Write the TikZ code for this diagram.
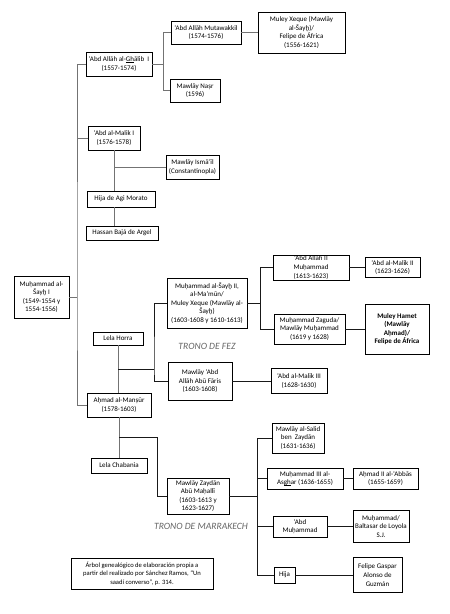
\documentclass[tikz,border=0pt]{standalone}
\usepackage{fontspec}
\setmainfont{Carlito}
\usetikzlibrary{positioning, calc}
\newcommand{\undl}[1]{{\setbox0\hbox{#1}\rlap{\rule[-0.9pt]{\wd0}{0.3pt}}\box0}}
\tikzset{
  person/.style={rectangle, draw, line width=0.9pt, align=center, inner sep=0.6pt, font=\fontsize{7}{8.6}\selectfont},
  keyperson/.style={person, font=\fontsize{7}{8.6}\selectfont\bfseries},
  source/.style={person, font=\fontsize{6.6}{8.3}\selectfont},
  throne/.style={font=\fontsize{9.6}{11}\selectfont\itshape, text=black!60},
  link/.style={line width=0.9pt, draw=black!55},
  linkdark/.style={line width=0.9pt, draw=black!90},
}

\begin{document}
\begin{tikzpicture}[x=1pt, y=-1pt]
  \fill[white] (0,0) rectangle (450,614);
  \useasboundingbox (0,0) rectangle (450,614);

  % Founder and the first generation
  \node[person, minimum width=55, minimum height=42] (sayh1) at (41.5,297) {Muḥammad al-\\Šayḫ I\\(1549-1554 y\\1554-1556)};
  \node[person, minimum width=66, minimum height=24] (ghalib) at (119,64) {‘Abd Allāh al-\undl{Gh}ālib~ I\\(1557-1574)};
  \node[person, minimum width=52, minimum height=24] (malik1) at (114,138) {‘Abd al-Malik I\\(1576-1578)};
  \node[person, minimum width=50, minimum height=13] (horra) at (118,338.5) {Lela Horra};
  \node[person, minimum width=64, minimum height=24] (mansur) at (119,405) {Aḥmad al-Manṣūr\\(1578-1603)};
  \node[person, minimum width=56, minimum height=15] (chabania) at (119,465.5) {Lela Chabania};

  % Branch of al-Ghalib
  \node[person, minimum width=70, minimum height=23] (mutawakkil) at (206,32.5) {‘Abd Allāh Mutawakkil\\(1574-1576)};
  \node[person, minimum width=87, minimum height=41] (xeque1) at (301.5,32.5) {Muley Xeque (Mawlāy\\al-Šayḫ)/\\Felipe de África\\(1556-1621)};
  \node[person, minimum width=50, minimum height=23] (nasr) at (195,90.5) {Mawlāy Naṣr\\(1596)};

  % Branch of Abd al-Malik I
  \node[person, minimum width=53, minimum height=24] (ismail) at (192.5,167) {Mawlāy Ismā‘īl\\(Constantinopla)};
  \node[person, minimum width=68, minimum height=16] (morato) at (121,199) {Hija de Agi Morato};
  \node[person, minimum width=72, minimum height=14] (hassan) at (122,233) {Hassan Bajá de Argel};

  % Throne of Fez
  \node[person, minimum width=80, minimum height=50] (sayh2) at (207,303) {Muḥammad al-Šayḫ II,\\al-Ma’mūn/\\Muley Xeque (Mawlāy al-\\Šayḫ)\\(1603-1608 y 1610-1613)};
  \node[person, minimum width=76, minimum height=25] (abdallah2) at (311,267.5) {‘Abd Allāh II\\Muḥammad\\(1613-1623)};
  \node[person, minimum width=55, minimum height=20] (malik2) at (392.5,267.5) {‘Abd al-Malik II\\(1623-1626)};
  \node[person, minimum width=71, minimum height=30] (zaguda) at (309.5,329) {Muḥammad Zaguda/\\Mawlāy Muḥammad\\(1619 y 1628)};
  \node[keyperson, minimum width=64, minimum height=50] (hamet) at (397,329) {Muley Hamet\\(Mawlāy\\Aḥmad)/\\Felipe de África};
  \node[person, minimum width=64, minimum height=38] (faris) at (200,381) {Mawlāy ‘Abd\\Allāh Abū Fāris\\(1603-1608)};
  \node[person, minimum width=56, minimum height=25] (malik3) at (299,381) {‘Abd al-Malik III\\(1628-1630)};
  \node[throne] (fez) at (207,346) {TRONO DE FEZ};

  % Throne of Marrakech
  \node[person, minimum width=62, minimum height=36] (zaydan) at (198,496) {Mawlāy Zaydān\\Abū Maḥallī\\(1603-1613 y\\1623-1627)};
  \node[person, minimum width=52, minimum height=30] (salid) at (298,438) {Mawlāy al-Salid\\ben~ Zaydān\\(1631-1636)};
  \node[person, minimum width=76, minimum height=21] (asghar) at (305,478.5) {Muḥammad III al-\\As\undl{gh}ar (1636-1655)};
  \node[person, minimum width=65, minimum height=21] (abbas) at (385.5,478.5) {Aḥmad II al-‘Abbās\\(1655-1659)};
  \node[person, minimum width=54, minimum height=21] (abdmuh) at (300,526.5) {‘Abd\\Muḥammad};
  \node[person, minimum width=56, minimum height=32] (baltasar) at (381,526.5) {Muḥammad/\\Baltasar de Loyola\\S.J.};
  \node[person, minimum width=21, minimum height=16] (hija) at (284.5,575) {Hija};
  \node[person, minimum width=49, minimum height=35] (gaspar) at (377.5,575) {Felipe Gaspar\\Alonso de\\Guzmán};
  \node[throne] (marrakech) at (201,526) {TRONO DE MARRAKECH};

  \node[source, minimum width=142, minimum height=31] (note) at (142,573.5) {Árbol genealógico de elaboración propia a\\partir del realizado por Sánchez Ramos, “Un\\saadí converso”, p. 314.};

  % Trunk from the founder
  \coordinate (trunk) at (77,297);
  \draw[link] (ghalib.west) -| (trunk) |- (mansur.west);
  \draw[link] (sayh1.east) -- (trunk);
  \draw[link] (malik1.west) -- (malik1.west -| trunk);

  % Upper branches
  \draw[link] (ghalib.east) -- ++(11,0) coordinate (gfork);
  \draw[link] (mutawakkil.west) -| (gfork) |- (nasr.west);
  \draw[link] (mutawakkil.east) -- (xeque1.west);
  \draw[link] (malik1.south) -- (malik1.south |- morato.north);
  \draw[link] (malik1.south |- ismail.west) -- (ismail.west);
  \draw[link] (malik1.south |- morato.south) -- (malik1.south |- hassan.north);

  % Fez
  \coordinate (fezfork) at (154,369);
  \draw[link] (horra.south) -- (horra.south |- mansur.north);
  \draw[linkdark] (horra.south |- fezfork) -- (fezfork);
  \draw[linkdark] (sayh2.west) -| (fezfork) |- (faris.west);
  \draw[linkdark] (sayh2.east) -- ++(13,0) coordinate (s2fork);
  \draw[linkdark] (abdallah2.west) -| (s2fork) |- (zaguda.west);
  \draw[linkdark] (abdallah2.east) -- (malik2.west);
  \draw[linkdark] (zaguda.east) -- (hamet.west);
  \draw[linkdark] (faris.east) -- (malik3.west);

  % Marrakech
  \coordinate (marfork) at (157,437);
  \draw[link] (mansur.south) -- (mansur.south |- chabania.north);
  \draw[linkdark] (mansur.south |- marfork) -- (marfork) |- (zaydan.west);
  \draw[linkdark] (zaydan.east) -- ++(28,0) coordinate (zfork);
  \draw[linkdark] (salid.west) -| (zfork) |- (hija.west);
  \draw[linkdark] (asghar.west) -- (asghar.west -| zfork);
  \draw[linkdark] (abdmuh.west) -- (abdmuh.west -| zfork);
  \draw[linkdark] (asghar.east) -- (abbas.west);
  \draw[linkdark] (abdmuh.east) -- (baltasar.west);
  \draw[linkdark] (hija.east) -- (gaspar.west);
\end{tikzpicture}
\end{document}
